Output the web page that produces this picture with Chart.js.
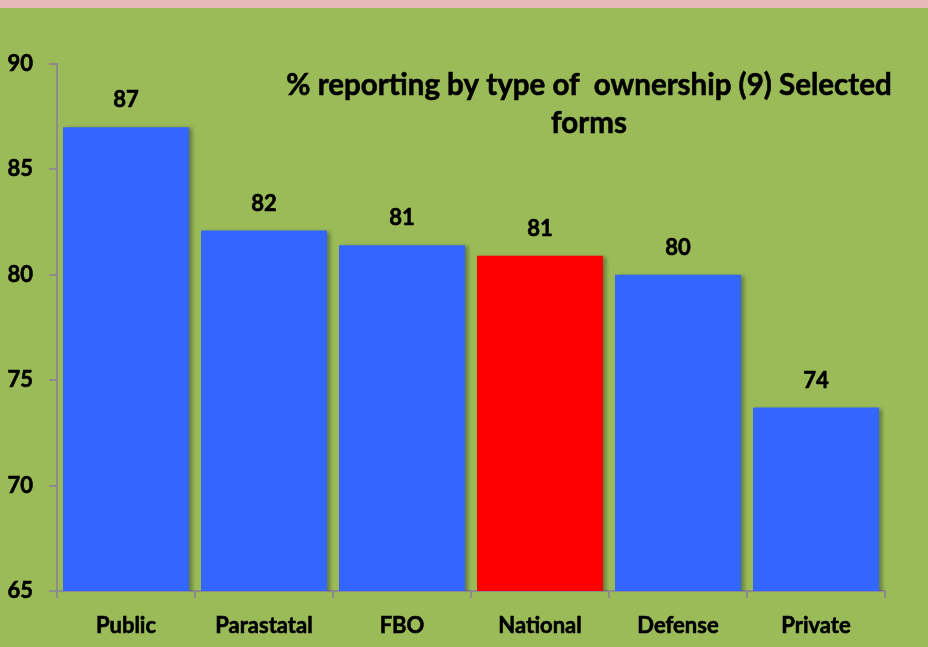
<!DOCTYPE html>
<html>
<head>
<meta charset="utf-8">
<script src="https://cdn.jsdelivr.net/npm/chart.js@4"></script>
<style>
    html, body { margin: 0; padding: 0; }
    body { width: 928px; height: 647px; background: #9BBB59; position: relative; overflow: hidden; }
    .band { position: absolute; left: 0; top: 0; width: 928px; height: 8px; background: #E6B9B8; }
    .wrap { position: absolute; left: 0; top: 0; width: 928px; height: 647px; }
</style>
</head>
<body>
<div class="band"></div>
<div class="wrap"><canvas id="chart_f" width="928" height="647"></canvas></div>
<script>
const categories = ['Public', 'Parastatal', 'FBO', 'National', 'Defense', 'Private']
const values = [87, 82.1, 81.4, 80.9, 80.0, 73.7]
const barColors = ['#3366FF', '#3366FF', '#3366FF', '#FF0000', '#3366FF', '#3366FF']
const yTicks = [65, 70, 75, 80, 85, 90]
const titleLines = ['% reporting by type of  ownership (9) Selected', 'forms']

const font = 'Lato, "Open Sans", sans-serif'

const labelsPlugin = {
    id: 'labels',
    beforeDatasetDraw(chart) {
        const ctx = chart.ctx
        ctx.save()
        ctx.shadowColor = 'rgba(0,0,0,0.35)'
        ctx.shadowBlur = 4
        ctx.shadowOffsetX = 3
        ctx.shadowOffsetY = 1
    },
    afterDatasetDraw(chart) {
        chart.ctx.restore()
    },
    afterDraw(chart) {
        const ctx = chart.ctx
        ctx.save()
        ctx.fillStyle = '#000'
        ctx.strokeStyle = '#000'
        ctx.lineWidth = 0.6
        ctx.textAlign = 'center'
        ctx.textBaseline = 'middle'
        ctx.font = 'bold 22px ' + font
        chart.getDatasetMeta(0).data.forEach((bar, i) => {
            ctx.fillText(Math.round(values[i]), bar.x, bar.y - 27)
            ctx.strokeText(Math.round(values[i]), bar.x, bar.y - 27)
        })
        ctx.font = 'bold 29.5px ' + font
        const cx = 589
        titleLines.forEach((line, i) => {
            const y = chart.chartArea.top + 21 + i * 38
            ctx.fillText(line, cx, y)
            ctx.strokeText(line, cx, y)
        })
        ctx.restore()
    }
}

const ctx = document.getElementById('chart_f').getContext('2d')
const myChart = new Chart(ctx, {
    type: 'bar',
    data: {
        labels: categories,
        datasets: [{
            data: values,
            backgroundColor: barColors,
            borderWidth: 0,
            barPercentage: 0.913,
            categoryPercentage: 1
        }]
    },
    options: {
        responsive: false,
        animation: false,
        devicePixelRatio: 1,
        layout: { padding: { top: 64, right: 43, left: 0, bottom: 0 } },
        plugins: {
            legend: { display: false },
            title: { display: false },
            tooltip: { enabled: false }
        },
        scales: {
            y: {
                min: 65,
                max: 90,
                afterBuildTicks: scale => { scale.ticks = yTicks.map(v => ({ value: v })) },
                afterFit: scale => { scale.width = 57 },
                border: { display: true, color: '#8C8C8C', width: 2 },
                grid: { drawOnChartArea: false, drawTicks: true, tickLength: 8, color: '#8C8C8C', lineWidth: 2 },
                ticks: { color: '#000', textStrokeColor: '#000', textStrokeWidth: 0.6, padding: 16, font: { family: font, size: 22, weight: 'bold' } }
            },
            x: {
                afterFit: scale => { scale.height = 56 },
                border: { display: true, color: '#8C8C8C', width: 2 },
                grid: { offset: true, drawOnChartArea: false, drawTicks: true, tickLength: 7, color: '#8C8C8C', lineWidth: 2 },
                ticks: { color: '#000', textStrokeColor: '#000', textStrokeWidth: 0.6, padding: 15, autoSkip: false, maxRotation: 0, font: { family: font, size: 22, weight: 'bold' } }
            }
        }
    },
    plugins: [labelsPlugin]
})
</script>
</body>
</html>
